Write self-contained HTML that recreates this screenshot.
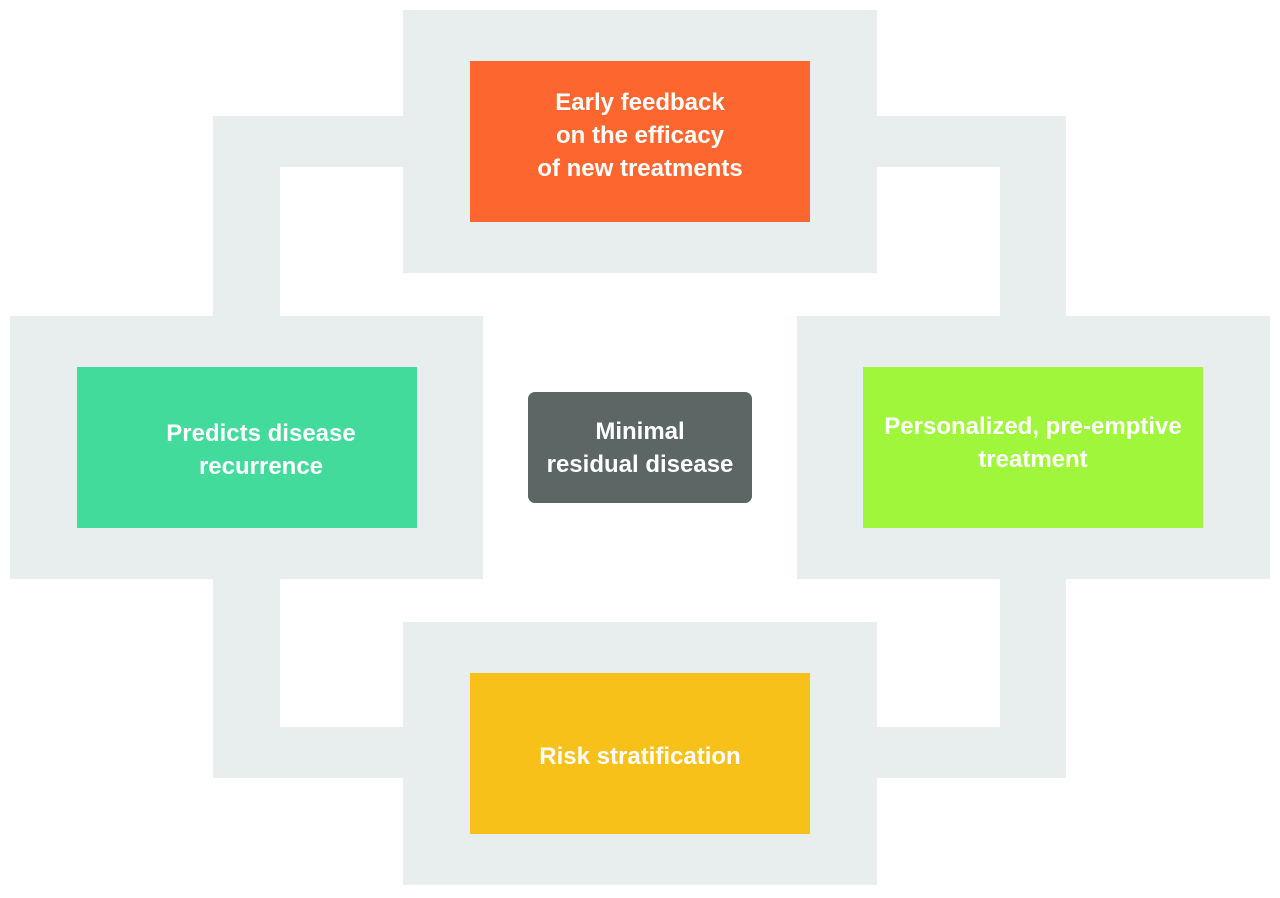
<!DOCTYPE html>
<html><head><meta charset="utf-8"><style>
body{margin:0;width:1280px;height:898px;background:#fff;position:relative;overflow:hidden;font-family:"Liberation Sans",sans-serif}
div{position:absolute;box-sizing:border-box}
.g{background:#e8eeee}
.b{color:#fff;font-weight:bold;font-size:24px;line-height:33px;text-align:center;display:flex;align-items:center;justify-content:center}
</style></head><body>
<div class="g" style="left:213px;top:116px;width:853px;height:662px"></div>
<div style="left:280px;top:167px;width:720px;height:560px;background:#fff"></div>
<div class="g" style="left:403px;top:10px;width:474px;height:263px"></div>
<div class="g" style="left:10px;top:316px;width:473px;height:263px"></div>
<div class="g" style="left:797px;top:316px;width:473px;height:263px"></div>
<div class="g" style="left:403px;top:622px;width:474px;height:263px"></div>
<div class="b" style="left:470px;top:61px;width:340px;height:161px;background:#fe662f;padding-bottom:12px">Early feedback<br>on the efficacy<br>of new treatments</div>
<div class="b" style="left:77px;top:367px;width:340px;height:161px;background:#42db9c;padding-left:28px;padding-top:4px">Predicts disease<br>recurrence</div>
<div class="b" style="left:863px;top:367px;width:340px;height:161px;background:#a0f63a;padding-bottom:10px">Personalized, pre-emptive<br>treatment</div>
<div class="b" style="left:470px;top:673px;width:340px;height:161px;background:#f8c11a;padding-top:6px">Risk stratification</div>
<div class="b" style="left:528px;top:392px;width:224px;height:111px;background:#5b6665;border-radius:7px">Minimal<br>residual disease</div>
</body></html>
